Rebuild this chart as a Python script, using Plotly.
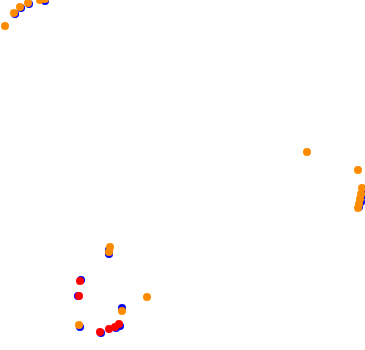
import plotly.graph_objects as go

# positions (x to the right, y upward, plot units)
blue_x = [15, 21, 29, 45, 363, 362, 361, 359, 109, 109, 81, 78, 122, 80, 101, 120, 116]
blue_y = [336, 342, 346, 349, 160, 154, 148, 143, 96, 100, 70, 54, 42, 23, 17, 24, 22]

red_x = [80, 79, 100, 109, 115, 119]
red_y = [69, 54, 18, 21, 23, 26]

orange_x = [5, 14, 20, 28, 40, 45, 307, 358, 362, 361, 360, 359, 358, 110, 109, 147, 122, 79]
orange_y = [324, 337, 343, 347, 350, 351, 198, 180, 162, 156, 151, 146, 142, 103, 98, 53, 39, 25]

fig = go.Figure()
fig.add_trace(go.Scatter(x=blue_x, y=blue_y, mode="markers",
                         marker=dict(color="blue", size=8), name="blue"))
fig.add_trace(go.Scatter(x=red_x, y=red_y, mode="markers",
                         marker=dict(color="red", size=8), name="red"))
fig.add_trace(go.Scatter(x=orange_x, y=orange_y, mode="markers",
                         marker=dict(color="#ff8c00", size=8), name="orange"))

fig.update_layout(
    width=365, height=350,
    margin=dict(l=0, r=0, t=0, b=0),
    showlegend=False,
    plot_bgcolor="white", paper_bgcolor="white",
    xaxis=dict(range=[0, 365], visible=False),
    yaxis=dict(range=[0, 350], visible=False),
)
fig.write_html("out.html")
